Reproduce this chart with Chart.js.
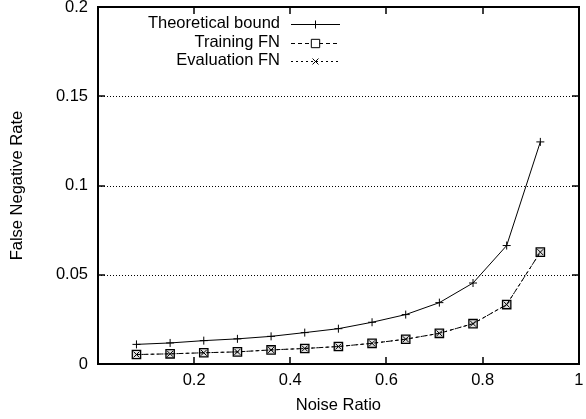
<!DOCTYPE html>
<html>
<head>
<meta charset="utf-8">
<script src="https://cdn.jsdelivr.net/npm/chart.js@4/dist/chart.umd.min.js"></script>
<style>
html,body{margin:0;padding:0;background:#fff;}
#wrap{width:586px;height:419px;}
</style>
</head>
<body>
<div id="wrap"><canvas id="c" width="586" height="419"></canvas></div>
<script>
const noiseRatio = [0.08, 0.15, 0.22, 0.29, 0.36, 0.43, 0.50, 0.57, 0.64, 0.71, 0.78, 0.85, 0.92];
const theoreticalBound = [0.0110, 0.0118, 0.0131, 0.0141, 0.0155, 0.0176, 0.0198, 0.0234, 0.0277, 0.0344, 0.0454, 0.0664, 0.1245];
const trainingFN = [0.0053, 0.0057, 0.0063, 0.0068, 0.0079, 0.0087, 0.0098, 0.0116, 0.0139, 0.0172, 0.0226, 0.0333, 0.0627];
const evaluationFN = [0.0053, 0.0057, 0.0063, 0.0068, 0.0079, 0.0087, 0.0098, 0.0116, 0.0139, 0.0172, 0.0226, 0.0333, 0.0627];
const seriesNames = ['Theoretical bound', 'Training FN', 'Evaluation FN'];
const xTickValues = [0.2, 0.4, 0.6, 0.8, 1];
const xTickLabels = ['0.2', '0.4', '0.6', '0.8', '1'];
const yTickValues = [0, 0.05, 0.1, 0.15, 0.2];
const yTickLabels = ['0', '0.05', '0.1', '0.15', '0.2'];
const yGridValues = [0.05, 0.1, 0.15];

const FONT = 'Liberation Sans, Arial, Helvetica, sans-serif';
const FSIZE = 16.5;

function pts(ys){ return noiseRatio.map((x,i)=>({x:x, y:ys[i]})); }

const dashes = [[], [4,3], [2,3]];
const styles = ['cross', 'rect', 'crossRot'];
const radii = [4, 5.9, 4.2];

const framePlugin = {
  id:'frame',
  beforeDatasetsDraw(chart){
    const {ctx, chartArea:a, scales:{x, y}} = chart;
    ctx.save();
    ctx.strokeStyle = '#000';
    ctx.lineWidth = 1;
    ctx.setLineDash([1,2]);
    yGridValues.forEach(v=>{
      const py = Math.round(y.getPixelForValue(v)) + 0.5;
      ctx.beginPath(); ctx.moveTo(a.left, py); ctx.lineTo(a.right, py); ctx.stroke();
    });
    ctx.restore();
  },
  afterDatasetsDraw(chart){
    const {ctx, chartArea:a, scales:{x, y}} = chart;
    ctx.save();
    ctx.strokeStyle = '#000';
    ctx.setLineDash([]);
    const L = Math.round(a.left), R = Math.round(a.right), T = Math.round(a.top), B = Math.round(a.bottom);
    ctx.lineWidth = 2;
    ctx.strokeRect(L, T, R-L, B-T);
    ctx.lineWidth = 1.5;
    const tl = 7;
    xTickValues.forEach(v=>{
      const px = Math.round(x.getPixelForValue(v));
      ctx.beginPath(); ctx.moveTo(px, B); ctx.lineTo(px, B-tl); ctx.moveTo(px, T); ctx.lineTo(px, T+tl); ctx.stroke();
    });
    yTickValues.forEach(v=>{
      const py = Math.round(y.getPixelForValue(v));
      ctx.beginPath(); ctx.moveTo(L, py); ctx.lineTo(L+tl, py); ctx.moveTo(R, py); ctx.lineTo(R-tl, py); ctx.stroke();
    });
    // legend
    ctx.lineWidth = 1;
    ctx.font = FSIZE + 'px ' + FONT;
    ctx.textAlign = 'right';
    ctx.textBaseline = 'middle';
    const rows = [24, 42.5, 61];
    seriesNames.forEach((name, i)=>{
      const ry = Math.round(rows[i]) + 0.5;
      ctx.fillStyle = '#000';
      ctx.fillText(name, 280, ry - 1.5);
      ctx.setLineDash(dashes[i]);
      ctx.beginPath(); ctx.moveTo(291, ry); ctx.lineTo(340, ry); ctx.stroke();
      ctx.setLineDash([]);
      if (i === 1) {
        ctx.fillStyle = '#fff';
        ctx.fillRect(311.5, ry-4, 8, 8);
      }
      ctx.fillStyle = 'rgba(0,0,0,0)';
      Chart.helpers.drawPoint(ctx, {pointStyle: styles[i], radius: radii[i], borderWidth: 1, rotation: 0}, 315.5, ry);
    });
    ctx.restore();
  }
};

new Chart(document.getElementById('c'), {
  type: 'scatter',
  data: {
    datasets: [
      {label: seriesNames[0], data: pts(theoreticalBound), showLine: true, borderColor:'#000', backgroundColor:'rgba(0,0,0,0)', borderWidth:1, borderDash: dashes[0], pointStyle: styles[0], pointRadius: radii[0], pointBorderWidth:1, pointBorderColor:'#000', tension:0},
      {label: seriesNames[1], data: pts(trainingFN), showLine: true, borderColor:'#000', backgroundColor:'rgba(0,0,0,0)', borderWidth:1, borderDash: dashes[1], pointStyle: styles[1], pointRadius: radii[1], pointBorderWidth:1.3, pointBorderColor:'#000', pointBackgroundColor:'rgba(0,0,0,0.12)', tension:0},
      {label: seriesNames[2], data: pts(evaluationFN), showLine: true, borderColor:'#000', backgroundColor:'rgba(0,0,0,0)', borderWidth:1, borderDash: dashes[2], pointStyle: styles[2], pointRadius: radii[2], pointBorderWidth:1, pointBorderColor:'#000', tension:0}
    ]
  },
  options: {
    responsive: false,
    animation: false,
    devicePixelRatio: 1,
    layout: {padding: {top: 7, right: 0, bottom: 0, left: 0}},
    plugins: {legend: {display:false}, tooltip:{enabled:false}},
    font: {family: FONT},
    scales: {
      x: {
        type: 'linear', min: 0, max: 1,
        afterBuildTicks(s){ s.ticks = xTickValues.map(v=>({value:v})); },
        afterFit(s){ s.height = 55; s.paddingRight = 3; s.paddingLeft = 0; },
        ticks: {color:'#000', padding: 7, maxRotation:0, autoSkip:false, font:{family:FONT, size:FSIZE},
          callback(v){ const i = xTickValues.indexOf(v); return i>=0 ? xTickLabels[i] : ''; }},
        grid: {display:false, drawTicks:false},
        border: {display:false},
        title: {display:true, text:'Noise Ratio', color:'#000', font:{family:FONT, size:FSIZE}, padding:{top:0, bottom:4}}
      },
      y: {
        type: 'linear', min: 0, max: 0.2,
        afterBuildTicks(s){ s.ticks = yTickValues.map(v=>({value:v})); },
        afterFit(s){ s.width = 98; s.paddingTop = 0; s.paddingBottom = 0; },
        ticks: {color:'#000', padding: 10, autoSkip:false, font:{family:FONT, size:FSIZE},
          callback(v){ const i = yTickValues.indexOf(v); return i>=0 ? yTickLabels[i] : ''; }},
        grid: {display:false, drawTicks:false},
        border: {display:false},
        title: {display:true, text:'False Negative Rate', color:'#000', font:{family:FONT, size:FSIZE}, padding:{top:8, bottom:0}}
      }
    }
  },
  plugins: [framePlugin]
});
</script>
</body>
</html>
